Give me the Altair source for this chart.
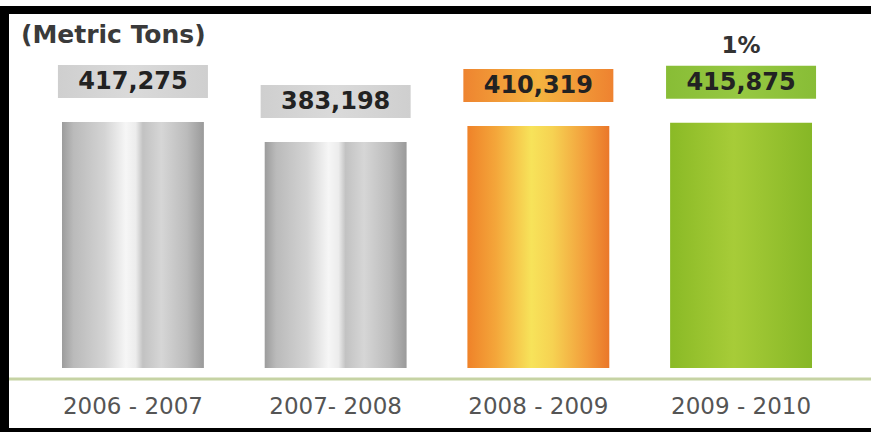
import altair as alt
import pandas as pd

# ---- data ----
categories = ["2006 - 2007", "2007- 2008", "2008 - 2009", "2009 - 2010"]
values = [417275, 383198, 410319, 415875]
notes = ["", "", "", "1%"]
unit_label = "(Metric Tons)"

df = pd.DataFrame({"period": categories, "tons": values, "note": notes})

x_scale = alt.Scale(domain=categories, range=[62, 812], paddingInner=0.3, paddingOuter=0)
y_scale = alt.Scale(domain=[0, 624200], range=[368, 0])
X = alt.X("period:N", scale=x_scale, axis=None, sort=categories)
Y = alt.Y("tons:Q", scale=y_scale, axis=None)


def grad(stops):
    return alt.Gradient(
        gradient="linear", x1=0, x2=1, y1=0, y2=0,
        stops=[alt.GradientStop(offset=o, color=c) for o, c in stops],
    )


grey_bar = [(0, "#9c9c9c"), (0.08, "#bababa"), (0.3, "#d4d4d4"), (0.45, "#f6f6f6"),
            (0.52, "#ececec"), (0.57, "#c2c2c2"), (0.7, "#d6d6d6"), (0.88, "#bbbbbb"), (1, "#9a9a9a")]
orange_bar = [(0, "#ef8229"), (0.2, "#f4a63a"), (0.45, "#f7e35a"), (0.6, "#f6d252"),
              (0.85, "#f29a3a"), (1, "#ea772a")]
green_bar = [(0, "#8aba26"), (0.45, "#a7cc38"), (1, "#86b726")]
bar_fills = [grey_bar, grey_bar, orange_bar, green_bar]

grey_box = [(0, "#cfcfcf"), (0.5, "#dadada"), (1, "#cfcfcf")]
orange_box = [(0, "#ee8430"), (0.5, "#f4b440"), (1, "#ee8230")]
green_box = [(0, "#88bd36"), (0.5, "#96c842"), (1, "#88bd36")]
box_fills = [grey_box, grey_box, orange_box, green_box]

one = pd.DataFrame({"t": [unit_label]})

layers = []

# frame
for x0, x1, y0, y1 in [(0, 871, 6, 14), (0, 9, 6, 432), (0, 871, 428, 432)]:
    layers.append(
        alt.Chart(one).mark_rect(color="#000000").encode(
            x=alt.value(x0), x2=alt.value(x1), y=alt.value(y0), y2=alt.value(y1)
        )
    )

# baseline
layers.append(
    alt.Chart(one).mark_rule(color="#c6d3a4", strokeWidth=3).encode(
        x=alt.value(9), x2=alt.value(871), y=alt.value(379)
    )
)

# bars and label boxes
for cat, bf, xf in zip(categories, bar_fills, box_fills):
    layers.append(
        alt.Chart(df).transform_filter(alt.datum.period == cat)
        .mark_bar(color=grad(bf))
        .encode(x=X, y=Y)
    )
    layers.append(
        alt.Chart(df).transform_filter(alt.datum.period == cat)
        .mark_bar(color=grad(xf), width=150, yOffset=-57, y2Offset=-24)
        .encode(x=X, y=Y, y2=alt.Y2("tons:Q"))
    )

# value labels
layers.append(
    alt.Chart(df).mark_text(font="DejaVu Sans", fontWeight="bold", fontSize=24,
                            color="#222222", baseline="middle", yOffset=-40)
    .encode(x=X, y=Y, text=alt.Text("tons:Q", format=","))
)

# percent note
layers.append(
    alt.Chart(df).transform_filter(alt.datum.note != "")
    .mark_text(font="DejaVu Sans", fontWeight="bold", fontSize=23,
               color="#333333", baseline="middle", yOffset=-77)
    .encode(x=X, y=Y, text="note:N")
)

# category labels
layers.append(
    alt.Chart(df).mark_text(font="DejaVu Sans", fontSize=23, color="#555555", baseline="middle")
    .encode(x=X, y=alt.value(407), text="period:N")
)

# unit label
layers.append(
    alt.Chart(one).mark_text(font="DejaVu Sans", fontWeight="bold", fontSize=25,
                             color="#3a3a3a", align="left", baseline="middle")
    .encode(x=alt.value(21), y=alt.value(35), text="t:N")
)

chart = (
    alt.layer(*layers)
    .properties(width=871, height=432, autosize=alt.AutoSizeParams(type="none"),
                padding=0, background="white")
    .configure_view(stroke=None)
)

chart.save("out.html", embed_options={"renderer": "svg", "actions": False})
